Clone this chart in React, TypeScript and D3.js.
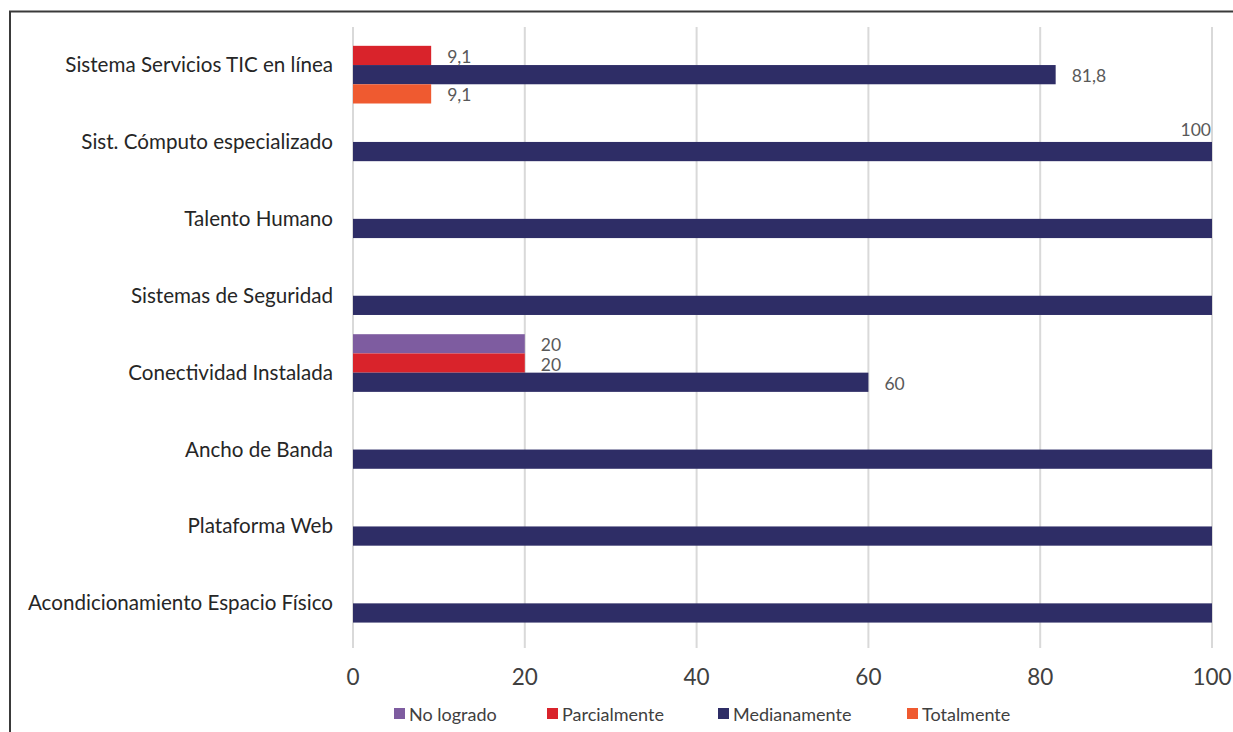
import React from "react";
import * as d3 from "d3";

const categories = [
  "Sistema Servicios TIC en línea",
  "Sist. Cómputo especializado",
  "Talento Humano",
  "Sistemas de Seguridad",
  "Conectividad Instalada",
  "Ancho de Banda",
  "Plataforma Web",
  "Acondicionamiento Espacio Físico",
];
const seriesNames = ["No logrado", "Parcialmente", "Medianamente", "Totalmente"];
const seriesColors = ["#7E5CA0", "#D9232B", "#2E2D66", "#EF5A30"];
const noLogrado = [0, 0, 0, 0, 20, 0, 0, 0];
const parcialmente = [9.1, 0, 0, 0, 20, 0, 0, 0];
const medianamente = [81.8, 100, 100, 100, 60, 100, 100, 100];
const totalmente = [9.1, 0, 0, 0, 0, 0, 0, 0];
// which medianamente values carry a data label
const medianamenteLabelShown = [true, true, false, false, true, false, false, false];
const xTicks = [0, 20, 40, 60, 80, 100];

const W = 1233;
const H = 732;
const FONT = "Lato, 'Open Sans', sans-serif";

export default function App() {
  const seriesValues = [noLogrado, parcialmente, medianamente, totalmente];
  const x = d3.scaleLinear().domain([0, 100]).range([353, 1212]);
  const y = d3.scaleBand<string>().domain(categories).range([26.6, 641.8]).paddingInner(0).paddingOuter(0);
  const inner = d3.scaleBand<string>().domain(seriesNames).range([0, y.bandwidth()]).padding(0);
  const fmt = (v: number) => String(v).replace(".", ",");

  const legendX = [394, 547, 718, 907];

  return (
    <div style={{ position: "absolute", left: 0, top: 0 }}>
      <svg width={W} height={H} style={{ display: "block", background: "#fff" }}>
        <rect x={0} y={0} width={W} height={H} fill="#fff" />
        <path d={`M10,${H} L10,11.5 L${W},11.5`} fill="none" stroke="#3a3a3a" strokeWidth={2} />
        {/* grid */}
        {xTicks.map((t) => (
          <line key={t} x1={x(t)} x2={x(t)} y1={27} y2={648} stroke="#d9d9d9" strokeWidth={2} />
        ))}
        {/* bars */}
        {categories.map((c, ci) =>
          seriesNames.map((s, si) => {
            const v = seriesValues[si][ci];
            if (!v) return null;
            return (
              <rect
                key={c + s}
                x={x(0)}
                y={(y(c) as number) + (inner(s) as number)}
                width={x(v) - x(0)}
                height={inner.bandwidth()}
                fill={seriesColors[si]}
              />
            );
          })
        )}
        {/* data labels */}
        {categories.map((c, ci) =>
          seriesNames.map((s, si) => {
            const v = seriesValues[si][ci];
            if (!v) return null;
            if (si === 2 && !medianamenteLabelShown[ci]) return null;
            const by = (y(c) as number) + (inner(s) as number);
            const cy = by + inner.bandwidth() / 2;
            if (x(v) + 50 > 1225) {
              return (
                <text key={"l" + c + s} x={x(v) - 1} y={by - 12} textAnchor="end" dominantBaseline="central"
                  fontFamily={FONT} fontSize={17.5} fill="#595959">
                  {fmt(v)}
                </text>
              );
            }
            return (
              <text key={"l" + c + s} x={x(v) + 16} y={cy + 1} dominantBaseline="central"
                fontFamily={FONT} fontSize={17.5} fill="#595959">
                {fmt(v)}
              </text>
            );
          })
        )}
        {/* category labels */}
        {categories.map((c) => (
          <text key={"c" + c} x={333} y={(y(c) as number) + y.bandwidth() / 2 - 1} textAnchor="end"
            dominantBaseline="central" fontFamily={FONT} fontSize={20.6} fill="#262626">
            {c}
          </text>
        ))}
        {/* x tick labels */}
        {xTicks.map((t) => (
          <text key={"t" + t} x={x(t)} y={676} textAnchor="middle" dominantBaseline="central"
            fontFamily={FONT} fontSize={22.5} fill="#404040">
            {t}
          </text>
        ))}
        {/* legend */}
        {seriesNames.map((s, i) => (
          <g key={"lg" + s} transform={`translate(${legendX[i]},714)`}>
            <rect x={0} y={-6} width={11} height={11} fill={seriesColors[i]} />
            <text x={15} y={0} dominantBaseline="central" fontFamily={FONT} fontSize={18} fill="#404040">
              {s}
            </text>
          </g>
        ))}
      </svg>
    </div>
  );
}
